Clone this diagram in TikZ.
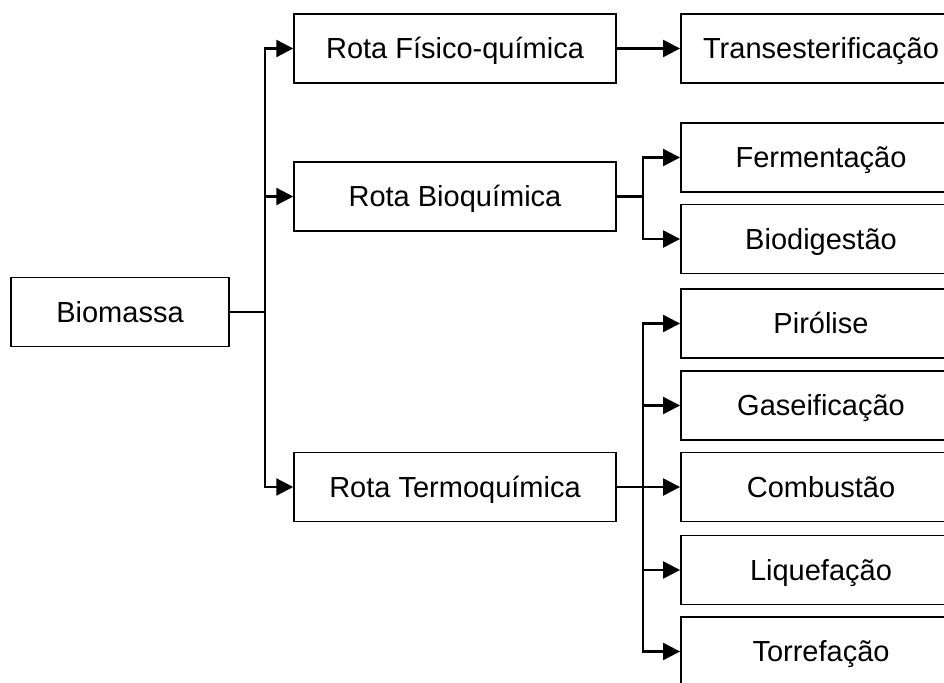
\documentclass[tikz,border=0pt]{standalone}
\usepackage{fontspec}
\setmainfont{Liberation Sans}
\usetikzlibrary{arrows.meta}
\begin{document}
\begin{tikzpicture}[x=1pt,y=-1pt,
  box/.style={draw=black, line width=1.5pt, minimum height=69pt, inner sep=0pt,
    text height=24pt, text depth=3.2pt,
    font=\fontsize{29}{34}\selectfont, fill=white},
  lbox/.style={box, minimum width=322pt},
  rbox/.style={box, minimum width=280pt, line width=1.9pt},
  conn/.style={line width=2.3pt},
  arr/.style={conn, -{Triangle[length=17pt,width=17pt]}}]
\useasboundingbox (0,0) rectangle (944,682);
\clip (0,0) rectangle (944,682);
\fill[white] (0,0) rectangle (944,682);
% nodes
\node[box, minimum width=218pt] (bio) at (120,312) {Biomassa};
\node[lbox] (rf) at (455,48.5) {Rota Físico-química};
\node[lbox] (rb) at (455,196.5) {Rota Bioquímica};
\node[lbox] (rt) at (455,487) {Rota Termoquímica};
\node[rbox] (tr) at (821,48.5) {Transesterificação};
\node[rbox] (fe) at (821,157.5) {Fermentação};
\node[rbox] (bd) at (821,239) {Biodigestão};
\node[rbox] (pi) at (821,323.5) {Pirólise};
\node[rbox] (ga) at (821,405.5) {Gaseificação};
\node[rbox] (co) at (821,487) {Combustão};
\node[rbox] (li) at (821,570) {Liquefação};
\node[rbox] (to) at (821,651.5) {Torrefação};
% junctions
\coordinate (j1) at (265,312);
\coordinate (j2) at (643,196.5);
\coordinate (j3) at (643,487);
% connectors
\draw[conn] (bio.east) -- (j1);
\draw[arr] (j1) |- (rf.west);
\draw[arr] (j1) |- (rb.west);
\draw[arr] (j1) |- (rt.west);
\draw[arr] (rf.east) -- (tr.west);
\draw[conn] (rb.east) -- (j2);
\draw[arr] (j2) |- (fe.west);
\draw[arr] (j2) |- (bd.west);
\draw[conn] (rt.east) -- (j3);
\draw[arr] (j3) |- (pi.west);
\draw[arr] (j3) |- (ga.west);
\draw[arr] (j3) -- (co.west);
\draw[arr] (j3) |- (li.west);
\draw[arr] (j3) |- (to.west);
\end{tikzpicture}
\end{document}
